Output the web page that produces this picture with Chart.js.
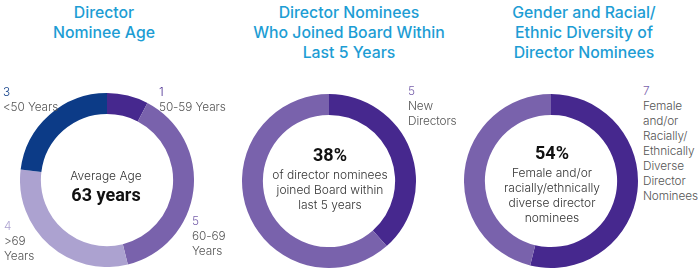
<!DOCTYPE html>
<html>
<head>
<meta charset="utf-8">
<script src="https://cdn.jsdelivr.net/npm/chart.js@4.4.1/dist/chart.umd.min.js"></script>
<style>
  html, body { margin: 0; padding: 0; background: #fff; }
  #wrap { position: relative; width: 700px; height: 272px; overflow: hidden; font-family: Inter, Roboto, sans-serif; }
  .title { position: absolute; text-align: center; color: #1d9dd4; font-size: 15.8px; font-weight: 500; line-height: 20px; white-space: nowrap; }
  .ring { position: absolute; }
  .center { position: absolute; text-align: center; color: #333; font-size: 12px; font-weight: 300; line-height: 15px; white-space: nowrap; transform: translateX(-50%); }
  .center b { display: block; color: #111; font-family: Roboto, sans-serif; font-size: 18px; line-height: 24px; font-weight: 700; }
  .callout { position: absolute; color: #555; font-size: 11.8px; font-weight: 300; line-height: 15px; letter-spacing: -0.1px; white-space: nowrap; }
  .callout .num { display: block; }
</style>
</head>
<body>
<div id="wrap">
  <div class="title" style="left:4px; top:3px; width:200px;">Director<br>Nominee Age</div>
  <div class="title" style="left:249px; top:3px; width:200px;">Director Nominees<br>Who Joined Board Within<br>Last 5 Years</div>
  <div class="title" style="left:484px; top:3px; width:200px;">Gender and Racial/<br>Ethnic Diversity of<br>Director Nominees</div>

  <canvas class="ring" id="ageChart" width="174" height="174" style="left:20px; top:93px;"></canvas>
  <canvas class="ring" id="tenureChart" width="174" height="174" style="left:242px; top:94px;"></canvas>
  <canvas class="ring" id="diversityChart" width="174" height="174" style="left:464px; top:94px;"></canvas>

  <div class="center" style="left:106px; top:168px;">Average Age<b>63 years</b></div>
  <div class="center" style="left:330px; top:143px;"><b>38%</b>of director nominees<br>joined Board within<br>last 5 years</div>
  <div class="center" style="left:552px; top:141px;"><b>54%</b>Female and/or<br>racially/ethnically<br>diverse director<br>nominees</div>

  <div id="callouts"></div>
</div>
<script>
// Director nominee age, clockwise from 12 o'clock
const ageLabels = ['50-59 Years', '60-69 Years', '>69 Years', '<50 Years'];
const ageCounts = [1, 5, 4, 3];

// Joined board within last 5 years
const tenureLabels = ['New Directors', 'Other Directors'];
const tenureCounts = [5, 8];

// Gender and racial/ethnic diversity
const diversityLabels = ['Female and/or Racially/ Ethnically Diverse Director Nominees', 'Other Director Nominees'];
const diversityCounts = [7, 6];

const navy = '#0c3b87';
const darkPurple = '#46288e';
const midPurple = '#7962ac';
const lightPurple = '#aca2d0';

function ring(id, labels, values, colors) {
  const ctx = document.getElementById(id).getContext('2d');
  return new Chart(ctx, {
    type: 'doughnut',
    data: {
      labels: labels,
      datasets: [{
        data: values,
        backgroundColor: colors,
        borderWidth: 0
      }]
    },
    options: {
      responsive: false,
      animation: false,
      cutout: '76%',
      layout: { padding: 0 },
      plugins: {
        legend: { display: false },
        tooltip: { enabled: false }
      }
    }
  });
}

ring('ageChart', ageLabels, ageCounts, [darkPurple, midPurple, lightPurple, navy]);
ring('tenureChart', tenureLabels, tenureCounts, [darkPurple, midPurple]);
ring('diversityChart', diversityLabels, diversityCounts, [darkPurple, midPurple]);

// callout text next to the rings
const callouts = [
  { count: ageCounts[3], lines: ['<50 Years'], color: navy, left: 3, top: 85 },
  { count: ageCounts[0], lines: ['50-59 Years'], color: darkPurple, left: 159, top: 85 },
  { count: ageCounts[2], lines: ['>69', 'Years'], color: lightPurple, left: 4, top: 219 },
  { count: ageCounts[1], lines: ['60-69', 'Years'], color: midPurple, left: 192, top: 214 },
  { count: tenureCounts[0], lines: ['New', 'Directors'], color: midPurple, left: 408, top: 84 },
  { count: diversityCounts[0], lines: ['Female', 'and/or', 'Racially/', 'Ethnically', 'Diverse', 'Director', 'Nominees'], color: midPurple, left: 643, top: 84 }
];

const holder = document.getElementById('callouts');
callouts.forEach(c => {
  const div = document.createElement('div');
  div.className = 'callout';
  div.style.left = c.left + 'px';
  div.style.top = c.top + 'px';
  const num = document.createElement('span');
  num.className = 'num';
  num.style.color = c.color;
  num.textContent = c.count;
  div.appendChild(num);
  c.lines.forEach(t => {
    const s = document.createElement('span');
    s.className = 'num';
    s.textContent = t;
    div.appendChild(s);
  });
  holder.appendChild(div);
});
</script>
</body>
</html>
